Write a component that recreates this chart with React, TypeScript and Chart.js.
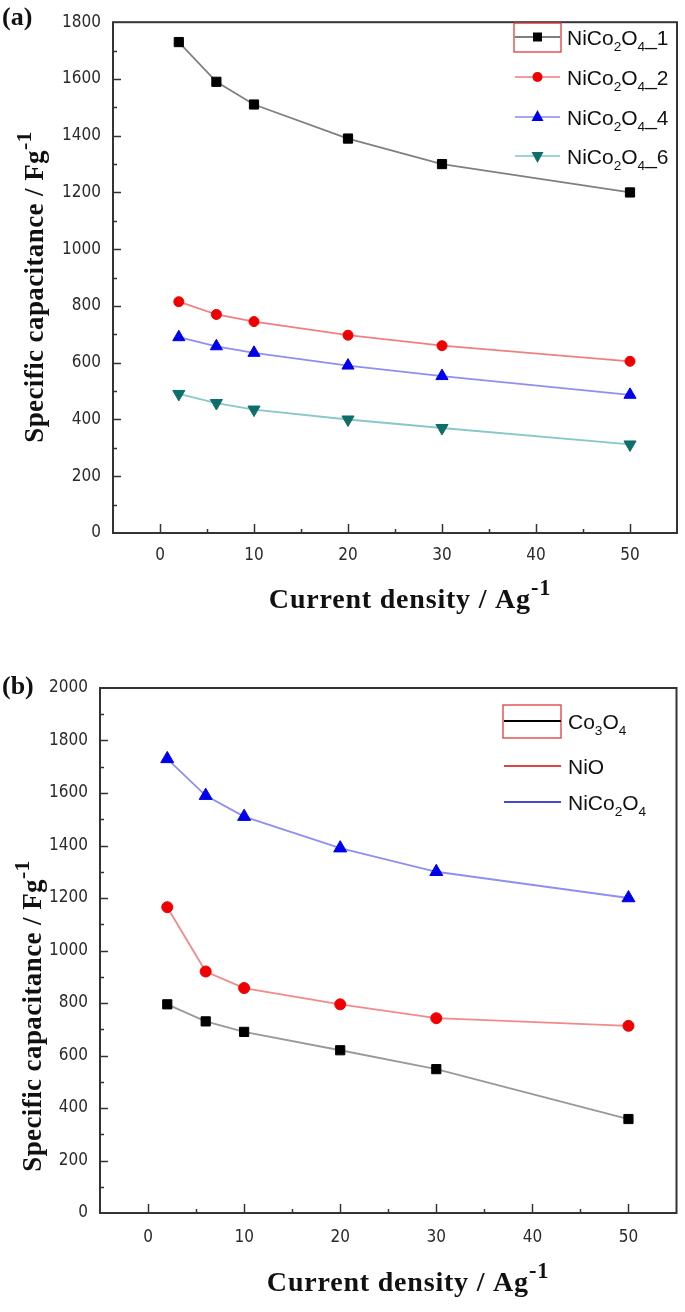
import React, { useEffect, useRef } from 'react';
import { Chart, registerables } from 'chart.js';

Chart.register(...registerables);

// ---------- data ----------
const currentDensity = [2, 6, 10, 20, 30, 50];
const xTickValues = [0, 10, 20, 30, 40, 50];

// panel (a)
const nico2o4_1 = [1730, 1590, 1510, 1390, 1300, 1200];
const nico2o4_2 = [815, 770, 745, 697, 660, 605];
const nico2o4_4 = [690, 658, 635, 590, 553, 487];
const nico2o4_6 = [490, 458, 435, 400, 370, 312];

// panel (b)
const co3o4 = [795, 730, 690, 620, 548, 358];
const nio = [1165, 920, 857, 795, 742, 713];
const nico2o4 = [1730, 1590, 1510, 1390, 1300, 1200];

const yMaxA = 1800;
const yMaxB = 2000;
const yStep = 200;

type Seg = { t: string; s?: 'sub' | 'sup' };

const SERIF = '"Liberation Serif", "Times New Roman", serif';
const SANS = '"Liberation Sans", Arial, sans-serif';
const NARROW = '"DejaVu Sans Condensed", "Liberation Sans Narrow", "Arial Narrow", sans-serif';

function drawRich(ctx: CanvasRenderingContext2D, segs: Seg[], x: number, y: number, size: number, fam: string, weight: string, align: 'left' | 'center', small = 0.62, spacing = 0) {
  const c: any = ctx;
  const prevLS = c.letterSpacing;
  c.letterSpacing = spacing + 'px';
  const widths = segs.map((s) => {
    ctx.font = `${weight} ${s.s ? size * small : size}px ${fam}`;
    return ctx.measureText(s.t).width;
  });
  const total = widths.reduce((a, b) => a + b, 0);
  let cx = align === 'center' ? x - total / 2 : x;
  ctx.textAlign = 'left';
  ctx.textBaseline = 'alphabetic';
  segs.forEach((s, i) => {
    ctx.font = `${weight} ${s.s ? size * small : size}px ${fam}`;
    const dy = s.s === 'sub' ? size * 0.3 : s.s === 'sup' ? -size * 0.45 : 0;
    ctx.fillText(s.t, cx, y + dy);
    cx += widths[i];
  });
  if (prevLS !== undefined) c.letterSpacing = prevLS;
}

type LegendRow = { segs: Seg[]; line: string; lineWidth: number; marker?: string; markerColor?: string };
type PanelCfg = {
  id: string;
  label: string;
  labelX: number;
  labelY: number;
  yMax: number;
  yTitleX: number;
  yTitleY: number;
  xTitleX: number;
  xTitleY: number;
  legendRows: LegendRow[];
  legendY0: number;
  legendDy: number[];
  lineX0: number;
  lineX1: number;
  textX: number;
  box: [number, number, number, number];
};

function drawMarker(ctx: CanvasRenderingContext2D, type: string, x: number, y: number, color: string) {
  ctx.fillStyle = color;
  ctx.beginPath();
  if (type === 'rect') {
    ctx.rect(x - 4.5, y - 4.5, 9, 9);
  } else if (type === 'circle') {
    ctx.arc(x, y, 5, 0, Math.PI * 2);
  } else if (type === 'tri') {
    ctx.moveTo(x, y - 7);
    ctx.lineTo(x + 6, y + 4);
    ctx.lineTo(x - 6, y + 4);
    ctx.closePath();
  } else if (type === 'dtri') {
    ctx.moveTo(x, y + 7);
    ctx.lineTo(x + 6, y - 4);
    ctx.lineTo(x - 6, y - 4);
    ctx.closePath();
  }
  ctx.fill();
}

function makeDecor(cfg: PanelCfg) {
  return {
    id: 'decor' + cfg.id,
    afterDraw(chart: any) {
      const { ctx, chartArea: a, scales } = chart;
      const xs = scales.x;
      const ys = scales.y;
      ctx.save();
      // frame
      ctx.strokeStyle = '#333';
      ctx.lineWidth = 2;
      ctx.strokeRect(a.left, a.top, a.right - a.left, a.bottom - a.top);
      // inward ticks
      ctx.lineWidth = 1.5;
      ctx.beginPath();
      for (let v = 0; v <= 50; v += 5) {
        const px = Math.round(xs.getPixelForValue(v)) + 0.5;
        const len = v % 10 === 0 ? 9 : 4;
        ctx.moveTo(px, a.bottom);
        ctx.lineTo(px, a.bottom - len);
      }
      for (let v = 100; v < cfg.yMax; v += 100) {
        const py = Math.round(ys.getPixelForValue(v)) + 0.5;
        const len = v % 200 === 0 ? 8 : 4;
        ctx.moveTo(a.left, py);
        ctx.lineTo(a.left + len, py);
      }
      ctx.stroke();

      ctx.fillStyle = '#111';
      // panel label
      ctx.font = `bold 26px ${SERIF}`;
      ctx.textAlign = 'left';
      ctx.textBaseline = 'alphabetic';
      ctx.fillText(cfg.label, cfg.labelX, cfg.labelY);

      // x title
      drawRich(ctx, [{ t: 'Current density / Ag' }, { t: '-1', s: 'sup' }], cfg.xTitleX, cfg.xTitleY, 28, SERIF, 'bold', 'center', 0.8, 0.8);

      // y title
      ctx.save();
      ctx.translate(cfg.yTitleX, cfg.yTitleY);
      ctx.rotate(-Math.PI / 2);
      drawRich(ctx, [{ t: 'Specific capacitance / Fg' }, { t: '-1', s: 'sup' }], 0, 9, 27, SERIF, 'bold', 'center', 0.8, 0.4);
      ctx.restore();

      // legend
      const [bx0, by0, bx1, by1] = cfg.box;
      ctx.strokeStyle = '#e03a3a';
      ctx.lineWidth = 1.3;
      ctx.strokeRect(bx0, by0, bx1 - bx0, by1 - by0);
      let ry = cfg.legendY0;
      cfg.legendRows.forEach((r, i) => {
        if (i > 0) ry += cfg.legendDy[i - 1];
        ctx.strokeStyle = r.line;
        ctx.lineWidth = r.lineWidth;
        ctx.beginPath();
        ctx.moveTo(cfg.lineX0, ry);
        ctx.lineTo(cfg.lineX1, ry);
        ctx.stroke();
        if (r.marker) drawMarker(ctx, r.marker, (cfg.lineX0 + cfg.lineX1) / 2, ry, r.markerColor || '#000');
        ctx.fillStyle = '#111';
        drawRich(ctx, r.segs, cfg.textX, ry + 8, 21, SANS, 'normal', 'left', 0.65);
      });
      ctx.restore();
    },
  };
}

function ds(label: string, vals: number[], line: string, pointStyle: string, color: string, radius: number, rotation = 0) {
  return {
    label,
    data: currentDensity.map((x, i) => ({ x, y: vals[i] })),
    borderColor: line,
    borderWidth: 1.8,
    pointStyle,
    rotation,
    pointRadius: radius,
    pointBackgroundColor: color,
    pointBorderColor: color,
    pointBorderWidth: 1,
    tension: 0,
    fill: false,
  };
}

const tickFont = { family: NARROW, size: 17 };

function buildConfig(cfg: PanelCfg, datasets: any[], padding: any, yWidth: number, xHeight: number, xPad: number): any {
  return {
    type: 'line',
    data: { datasets },
    options: {
      responsive: false,
      animation: false,
      events: [],
      layout: { padding },
      plugins: { legend: { display: false }, tooltip: { enabled: false }, title: { display: false } },
      scales: {
        x: {
          type: 'linear',
          min: -5,
          max: 55,
          afterBuildTicks: (s: any) => {
            s.ticks = xTickValues.map((v) => ({ value: v }));
          },
          afterFit: (s: any) => {
            s.height = xHeight;
          },
          grid: { display: false, drawTicks: false },
          border: { display: false },
          ticks: { padding: xPad, color: '#2a2a2a', font: tickFont, autoSkip: false, maxRotation: 0, callback: (v: any) => String(v) },
        },
        y: {
          type: 'linear',
          min: 0,
          max: cfg.yMax,
          afterFit: (s: any) => {
            s.width = yWidth;
          },
          grid: { display: false, drawTicks: false },
          border: { display: false },
          ticks: { stepSize: yStep, padding: 12, color: '#2a2a2a', font: tickFont, autoSkip: false, callback: (v: any) => String(v) },
        },
      },
    },
    plugins: [makeDecor(cfg)],
  };
}

const panelA: PanelCfg = {
  id: 'a',
  label: '(a)',
  labelX: 2,
  labelY: 25,
  yMax: yMaxA,
  yTitleX: 34,
  yTitleY: 287,
  xTitleX: 410,
  xTitleY: 608,
  legendRows: [
    { segs: [{ t: 'NiCo' }, { t: '2', s: 'sub' }, { t: 'O' }, { t: '4', s: 'sub' }, { t: '_1' }], line: '#555', lineWidth: 1.5, marker: 'rect', markerColor: '#000' },
    { segs: [{ t: 'NiCo' }, { t: '2', s: 'sub' }, { t: 'O' }, { t: '4', s: 'sub' }, { t: '_2' }], line: '#f07a7a', lineWidth: 1.5, marker: 'circle', markerColor: '#f00000' },
    { segs: [{ t: 'NiCo' }, { t: '2', s: 'sub' }, { t: 'O' }, { t: '4', s: 'sub' }, { t: '_4' }], line: '#8a8af0', lineWidth: 1.5, marker: 'tri', markerColor: '#0000ee' },
    { segs: [{ t: 'NiCo' }, { t: '2', s: 'sub' }, { t: 'O' }, { t: '4', s: 'sub' }, { t: '_6' }], line: '#80c4c4', lineWidth: 1.5, marker: 'dtri', markerColor: '#0e6e68' },
  ],
  legendY0: 37,
  legendDy: [40, 40, 39],
  lineX0: 515,
  lineX1: 560,
  textX: 567,
  box: [514, 23, 561, 52],
};

const panelB: PanelCfg = {
  id: 'b',
  label: '(b)',
  labelX: 2,
  labelY: 64,
  yMax: yMaxB,
  yTitleX: 32,
  yTitleY: 386,
  xTitleX: 408,
  xTitleY: 661,
  legendRows: [
    { segs: [{ t: 'Co' }, { t: '3', s: 'sub' }, { t: 'O' }, { t: '4', s: 'sub' }], line: '#000', lineWidth: 2 },
    { segs: [{ t: 'NiO' }], line: '#cc0a0a', lineWidth: 1.6 },
    { segs: [{ t: 'NiCo' }, { t: '2', s: 'sub' }, { t: 'O' }, { t: '4', s: 'sub' }], line: '#0a0ac0', lineWidth: 1.6 },
  ],
  legendY0: 91,
  legendDy: [45, 36],
  lineX0: 504,
  lineX1: 561,
  textX: 568,
  box: [503, 75, 561, 108],
};

const datasetsA = [
  ds('NiCo2O4_1', nico2o4_1, '#808080', 'rect', '#000', 6.5),
  ds('NiCo2O4_2', nico2o4_2, '#f08080', 'circle', '#f00000', 5),
  ds('NiCo2O4_4', nico2o4_4, '#8f8ff2', 'triangle', '#0000ee', 7),
  ds('NiCo2O4_6', nico2o4_6, '#88c8c8', 'triangle', '#0e6e68', 7, 180),
];

const datasetsB = [
  ds('Co3O4', co3o4, '#999999', 'rect', '#000', 6.5),
  ds('NiO', nio, '#f28a8a', 'circle', '#f00000', 5.5),
  ds('NiCo2O4', nico2o4, '#8f8ff2', 'triangle', '#0000ee', 7.5),
];

function Panel(props: { cfg: PanelCfg; datasets: any[]; top: number; height: number; padding: any; yWidth: number; xHeight: number; xPad: number }) {
  const ref = useRef<HTMLCanvasElement | null>(null);
  useEffect(() => {
    if (!ref.current) return;
    const chart = new Chart(ref.current, buildConfig(props.cfg, props.datasets, props.padding, props.yWidth, props.xHeight, props.xPad));
    return () => chart.destroy();
  }, []);
  return (
    <div style={{ position: 'absolute', left: 0, top: props.top, width: 685, height: props.height }}>
      <canvas ref={ref} width={685} height={props.height} style={{ width: 685, height: props.height, display: 'block' }} />
    </div>
  );
}

export default function App() {
  return (
    <div style={{ position: 'absolute', left: 0, top: 0, width: 685, height: 1312, background: '#fff', overflow: 'hidden' }}>
      <Panel cfg={panelA} datasets={datasetsA} top={0} height={630} padding={{ top: 18, right: 8, left: 0, bottom: 0 }} yWidth={113} xHeight={97} xPad={12} />
      <Panel cfg={panelB} datasets={datasetsB} top={630} height={682} padding={{ top: 58, right: 7, left: 0, bottom: 0 }} yWidth={100} xHeight={99} xPad={14} />
    </div>
  );
}
